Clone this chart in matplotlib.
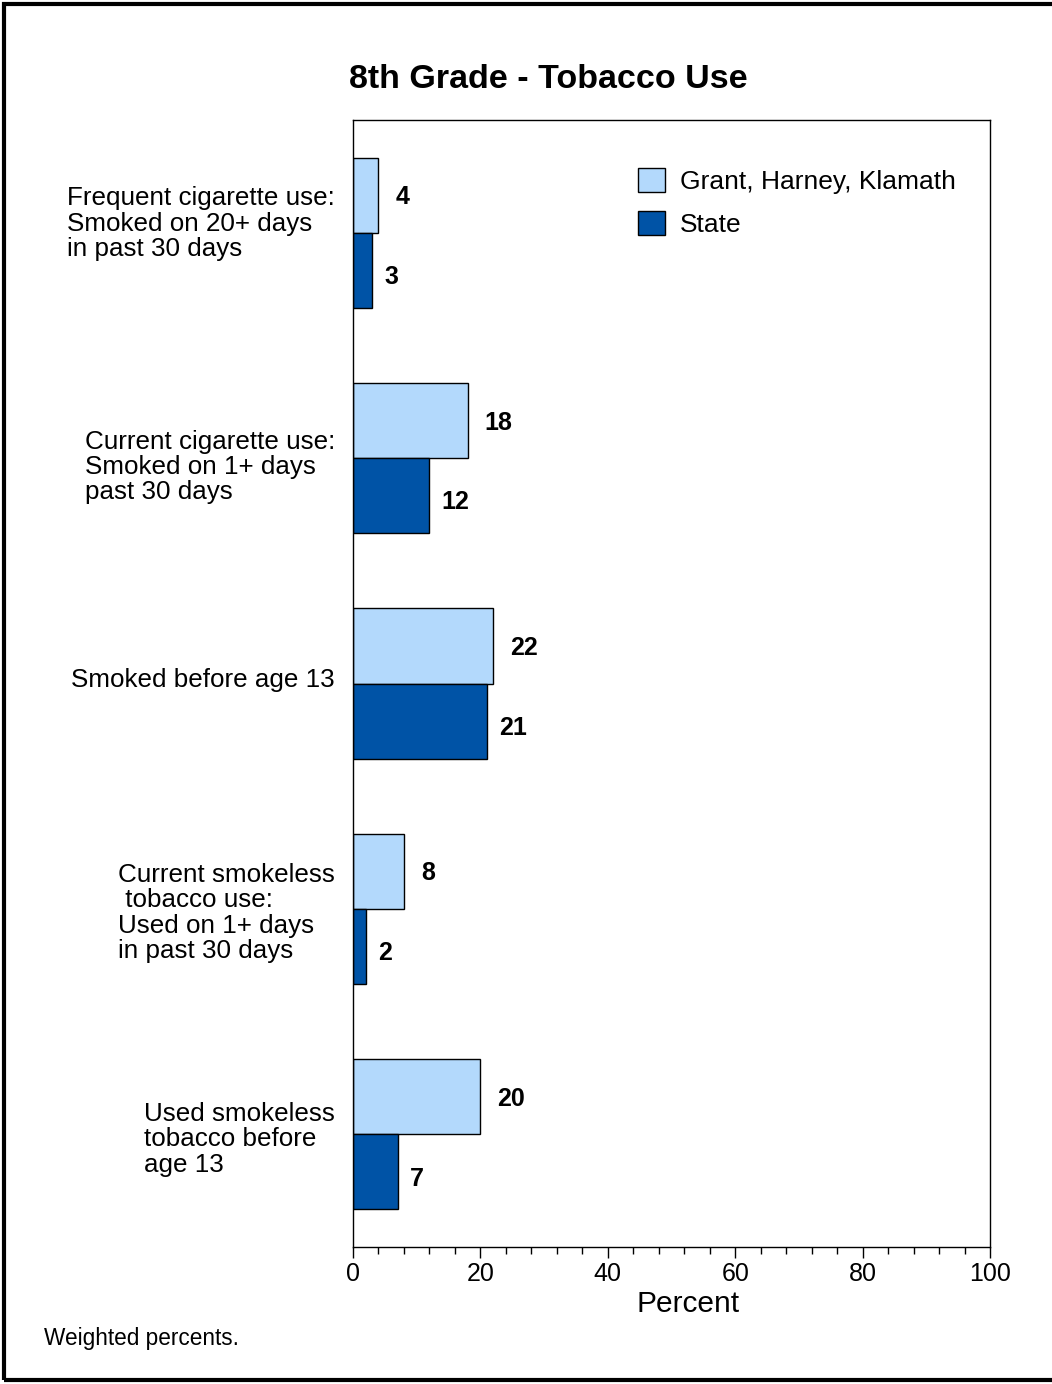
import numpy as np
from matplotlib import pyplot as plt
from matplotlib.patches import Rectangle
from matplotlib.transforms import blended_transform_factory, offset_copy

plt.rcParams['font.family'] = ['Liberation Sans', 'DejaVu Sans']

categories = ["Frequent cigarette use:\nSmoked on 20+ days\nin past 30 days",
              "Current cigarette use:\nSmoked on 1+ days\npast 30 days",
              "Smoked before age 13",
              "Current smokeless\n tobacco use:\nUsed on 1+ days\nin past 30 days",
              "Used smokeless\ntobacco before\nage 13"]
local = [4, 18, 22, 8, 20]
state = [3, 12, 21, 2, 7]
series_names = ["Grant, Harney, Klamath", "State"]

# vertical nudge of each category label, in pixels (positive = up)
label_shift = [9, -9, 4, -4, -5]

LIGHT = '#B3D9FC'
DARK = '#0053A6'

fig = plt.figure(figsize=(10.52, 13.84), dpi=100)
ax = fig.add_axes([353/1052, 1 - 1247/1384, (990 - 353)/1052, (1247 - 120)/1384])

y = np.arange(len(categories))
h = 0.333
ax.barh(y - h/2, local, height=h, color=LIGHT, edgecolor='black', linewidth=1, label=series_names[0])
ax.barh(y + h/2, state, height=h, color=DARK, edgecolor='black', linewidth=1, label=series_names[1])

for yi, v in zip(y, local):
    ax.annotate(str(v), (v, yi - h/2), xytext=(17, -2), textcoords='offset pixels',
                ha='left', va='center', fontsize=18, fontweight='bold')
for yi, v in zip(y, state):
    ax.annotate(str(v), (v, yi + h/2 + 0.03), xytext=(12, 0), textcoords='offset pixels',
                ha='left', va='center', fontsize=18, fontweight='bold')

ax.set_xlim(0, 100)
ax.set_ylim(4.5, -0.5)
ax.set_yticks([])

trans = blended_transform_factory(ax.transAxes, ax.transData)
for yi, lab, dy in zip(y, categories, label_shift):
    t = offset_copy(trans, fig=fig, x=-18, y=dy, units='dots')
    ax.text(0, yi, lab, transform=t, ha='right', va='center', multialignment='left',
            fontsize=18.7, linespacing=1.07)

ax.set_xticks(np.arange(0, 101, 20))
ax.set_xticks(np.arange(0, 101, 4), minor=True)
ax.tick_params(axis='x', which='major', length=8, width=1, labelsize=18, pad=3)
ax.tick_params(axis='x', which='minor', length=5, width=1)
ax.set_xlabel("Percent", fontsize=21.5)
ax.xaxis.set_label_coords((688 - 353)/637, -(1304 - 1247)/1127)
ax.xaxis.label.set_va('center')
for s in ax.spines.values():
    s.set_linewidth(1)

ax.legend(loc='upper left', bbox_to_anchor=(0.426, 0.969), frameon=False, fontsize=19,
          borderpad=0, handlelength=1.05, handleheight=1.0, handletextpad=0.55, labelspacing=0.66)

fig.text(548/1052, 1 - 79/1384, "8th Grade - Tobacco Use", ha='center', va='center',
         fontsize=24.5, fontweight='bold')
fig.text(44/1052, 1 - 1339/1384, "Weighted percents.", ha='left', va='center', fontsize=16.3)

fig.patches.append(Rectangle((4/1052, 4/1384), 1.1, 1 - 8/1384, transform=fig.transFigure,
                             fill=False, edgecolor='black', linewidth=3))

fig.savefig("out.png", dpi=100)
